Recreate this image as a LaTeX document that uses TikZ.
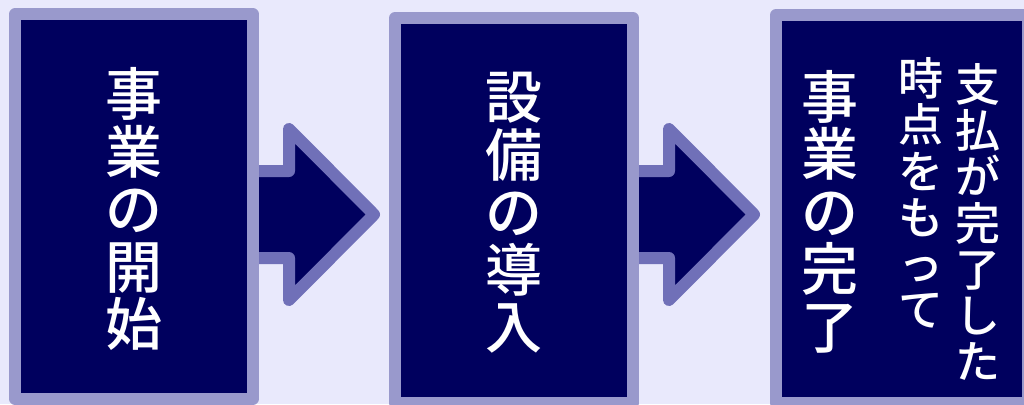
\documentclass[tikz,border=0pt]{standalone}
\usepackage{fontspec}
\newfontfamily\jp{Noto Sans CJK JP}[UprightFont=* Medium]
\definecolor{bg}{RGB}{233,233,252}
\definecolor{boxline}{RGB}{153,153,204}
\definecolor{navy}{RGB}{0,0,94}
\definecolor{arrline}{RGB}{112,112,184}
\tikzset{
  stepbox/.style={draw=boxline, fill=navy, line width=12pt, line join=round, inner sep=0pt, outer sep=0pt},
  blockarrow/.style={draw=arrline, fill=navy, line width=12pt, line join=round},
  bigtext/.style={text=white, align=center, inner sep=0pt, font=\jp\fontsize{57}{57.5}\selectfont},
  smalltext/.style={text=white, align=center, inner sep=0pt, font=\jp\fontsize{45}{46.3}\selectfont}
}
\begin{document}
\begin{tikzpicture}[x=1pt,y=-1pt]
\useasboundingbox (0,0) rectangle (1024,404);
\clip (0,0) rectangle (1024,404);
\fill[bg] (0,0) rectangle (1024,404);
% block arrows (behind boxes)
\draw[blockarrow] (245,171) -- (289,171) -- (289,129) -- (374,214.5) -- (289,300) -- (289,258) -- (245,258) -- cycle;
\draw[blockarrow] (625,171) -- (669,171) -- (669,129) -- (754,214.5) -- (669,300) -- (669,258) -- (625,258) -- cycle;
% boxes
\node[stepbox, minimum width=238pt, minimum height=384pt] (b1) at (134,206.5) {};
\node[stepbox, minimum width=238pt, minimum height=385pt] (b2) at (514,210.5) {};
\node[stepbox, minimum width=252pt, minimum height=388pt] (b3) at (902,209) {};
% texts
\node[bigtext] (t1) at (134,209) {事\\業\\の\\開\\始};
\node[bigtext] (t2) at (514,213) {設\\備\\の\\導\\入};
\node[bigtext] (t3) at (830,211.5) {事\\業\\の\\完\\了};
\node[smalltext] (t4) at (921,193) {時\\点\\を\\も\\っ\\て};
\node[smalltext] (t5) at (977.5,222) {支\\払\\が\\完\\了\\し\\た};
\end{tikzpicture}
\end{document}
